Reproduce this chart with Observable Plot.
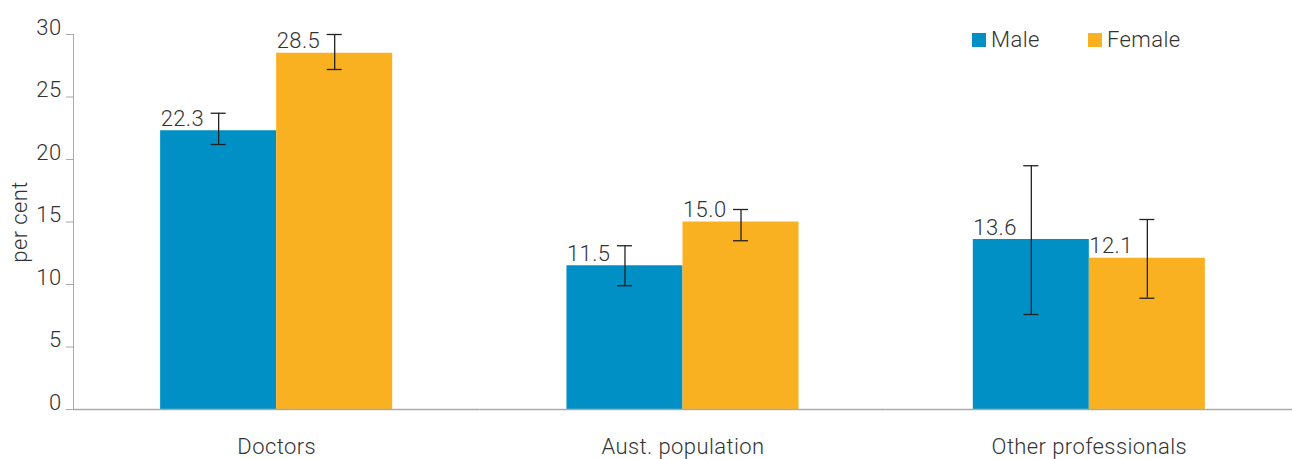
<!DOCTYPE html>
<html>
<head>
<meta charset="utf-8">
<script src="https://cdn.jsdelivr.net/npm/d3@7"></script>
<script src="https://cdn.jsdelivr.net/npm/@observablehq/plot@0.6"></script>
<style>
  html, body { margin: 0; padding: 0; background: #fff; }
  #wrap { position: relative; width: 1292px; height: 459px; font-family: Roboto, "Noto Sans", sans-serif; }
  #legend { position: absolute; left: 972px; top: 23px; }
  .lg-swatch { margin-right: 0 !important; width: 116px; font-size: 22px; font-weight: 300; color: #333; letter-spacing: 0.4px; }
  .lg-swatch svg { margin-right: 5px !important; }
  svg text { letter-spacing: 0.4px; }
</style>
</head>
<body>
<div id="wrap"><div id="chart"></div><div id="legend"></div></div>
<script>
const groups = ["Doctors", "Aust. population", "Other professionals"];
const sexes = ["Male", "Female"];
const maleValues = [22.3, 11.5, 13.6];
const femaleValues = [28.5, 15.0, 12.1];
const maleLow = [21.2, 9.9, 7.6];
const maleHigh = [23.7, 13.1, 19.5];
const femaleLow = [27.2, 13.5, 8.9];
const femaleHigh = [30.0, 16.0, 15.2];
const yTicks = [0, 5, 10, 15, 20, 25, 30];
const colors = ["#0090c5", "#f9b122"];

const data = [];
groups.forEach((g, i) => {
  data.push({group: g, sex: "Male", value: maleValues[i], low: maleLow[i], high: maleHigh[i]});
  data.push({group: g, sex: "Female", value: femaleValues[i], low: femaleLow[i], high: femaleHigh[i]});
});

const chart = Plot.plot({
  width: 1292,
  height: 459,
  marginLeft: 73,
  marginRight: 0,
  marginTop: 34,
  marginBottom: 50,
  style: {fontFamily: "Roboto, 'Noto Sans', sans-serif", fontSize: "22px", color: "#333", fontWeight: 300, background: "#fff"},
  fx: {domain: groups, padding: 0, round: false, label: null, axis: null},
  x: {domain: sexes, paddingInner: 0, paddingOuter: 0.751, round: false, axis: null},
  y: {domain: [0, 30]},
  color: {domain: sexes, range: colors},
  marks: [
    Plot.axisFx({anchor: "bottom", tickSize: 0, tickPadding: 29, label: null, fontSize: 22, fill: "#333"}),
    Plot.axisY({ticks: yTicks, tickSize: 7, tickPadding: 5, stroke: "#aaa", strokeOpacity: 1, fill: "#333",
      fontSize: 22, lineAnchor: "bottom", label: "per cent", labelAnchor: "center", labelArrow: "none", labelOffset: 62}),
    Plot.frame({anchor: "left", facetAnchor: "left", stroke: "#aaa"}),
    Plot.barY(data, {fx: "group", x: "sex", y: "value", fill: "sex"}),
    Plot.ruleY([0], {stroke: "#aaa", strokeWidth: 1.5}),
    Plot.ruleX(data, {fx: "group", x: "sex", y1: "low", y2: "high", stroke: "#222", strokeWidth: 1.3}),
    Plot.tickY(data, {fx: "group", x: "sex", y: "low", stroke: "#222", strokeWidth: 1.3, insetLeft: 50.5, insetRight: 50.5}),
    Plot.tickY(data, {fx: "group", x: "sex", y: "high", stroke: "#222", strokeWidth: 1.3, insetLeft: 50.5, insetRight: 50.5}),
    Plot.text(data, {fx: "group", x: "sex", y: "value", text: d => d.value.toFixed(1), textAnchor: "start",
      lineAnchor: "bottom", dx: -58, dy: -5, fontSize: 22, fill: "#333"})
  ]
});
document.getElementById("chart").appendChild(chart);

const legend = Plot.legend({
  color: {domain: sexes, range: colors},
  legend: "swatches",
  swatchSize: 14,
  className: "lg",
  style: {fontSize: "22px", fontFamily: "Roboto, 'Noto Sans', sans-serif", fontWeight: 300, color: "#333"}
});
document.getElementById("legend").appendChild(legend);
</script>
</body>
</html>
